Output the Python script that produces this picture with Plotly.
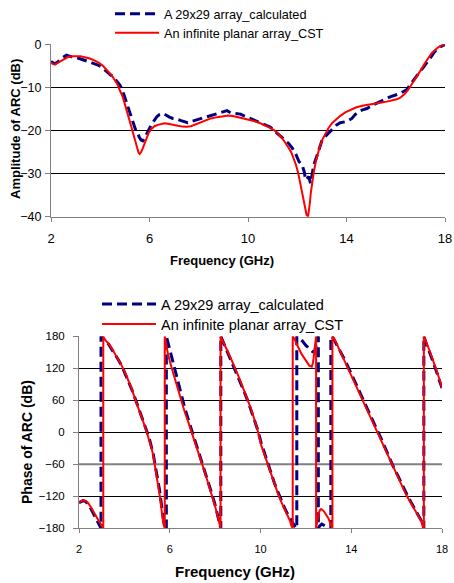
import plotly.graph_objects as go

# ---------------- Amplitude of ARC (dB) ----------------
amp_calc_freq = [2.0, 2.16, 2.3, 2.45, 2.63, 2.84, 3.05, 3.24, 3.51, 3.7, 3.91, 4.1, 4.25, 4.4,
                 4.52, 4.65, 4.79, 4.9, 4.99, 5.07, 5.15, 5.25, 5.33, 5.42, 5.5, 5.58, 5.66,
                 5.73, 5.8, 5.9, 6.0, 6.1, 6.2, 6.3, 6.4, 6.54, 6.7, 6.81, 6.95, 7.08, 7.28,
                 7.45, 7.55, 7.7, 7.82, 8.0, 8.22, 8.4, 8.63, 8.8, 9.03, 9.15, 9.3, 9.5, 9.7,
                 9.84, 10.04, 10.24, 10.45, 10.65, 10.9, 11.12, 11.3, 11.46, 11.65, 11.8,
                 11.95, 12.07, 12.2, 12.28, 12.34, 12.42, 12.47, 12.54, 12.6, 12.67, 12.81,
                 12.9, 13.01, 13.1, 13.21, 13.35, 13.48, 13.6, 13.75, 13.9, 14.02, 14.1,
                 14.22, 14.35, 14.49, 14.65, 14.83, 15.0, 15.2, 15.37, 15.55, 15.77, 16.0,
                 16.18, 16.3, 16.45, 16.6, 16.72, 16.85, 16.99, 17.13, 17.26, 17.4, 17.53,
                 17.66, 17.8, 17.9, 18.0]
amp_calc_db = [-4.0, -4.5, -4.0, -3.2, -2.5, -2.9, -3.1, -3.5, -4.0, -4.3, -4.8, -5.5, -6.35, -7.0,
               -7.5, -8.5, -9.4, -10.6, -12.2, -13.6, -14.9, -16.8, -18.3, -19.6, -20.3, -21.5,
               -22.2, -22.4, -21.8, -20.5, -19.5, -18.4, -17.5, -16.8, -16.3, -16.0, -16.5,
               -16.9, -17.2, -17.3, -17.7, -18.1, -18.2, -17.9, -17.7, -17.3, -16.9, -16.6,
               -16.4, -16.0, -15.6, -15.4, -15.9, -16.0, -16.2, -16.6, -17.1, -17.6, -18.0,
               -18.5, -19.2, -20.3, -21.2, -22.2, -23.0, -24.1, -25.6, -27.2, -28.0, -29.5,
               -31.5, -31.0, -30.7, -32.3, -30.5, -28.0, -25.7, -24.0, -22.2, -21.6, -21.0,
               -20.0, -19.3, -18.7, -18.2, -18.0, -17.9, -17.6, -17.2, -16.3, -15.6, -15.2,
               -14.9, -14.3, -13.7, -13.3, -12.8, -12.2, -11.8, -11.4, -11.0, -10.5, -9.3,
               -8.3, -7.3, -6.3, -5.3, -4.4, -3.2, -2.1, -1.2, -0.6, -0.3, -0.1]

amp_cst_freq = [2.0, 2.08, 2.16, 2.25, 2.36, 2.5, 2.7, 2.9, 3.04, 3.2, 3.37, 3.58, 3.78, 3.95,
                4.11, 4.25, 4.38, 4.5, 4.59, 4.7, 4.79, 4.9, 4.99, 5.1, 5.19, 5.28, 5.37, 5.45,
                5.5, 5.56, 5.6, 5.66, 5.73, 5.8, 5.87, 5.97, 6.07, 6.2, 6.34, 6.5, 6.61, 6.8,
                6.94, 7.15, 7.35, 7.5, 7.68, 7.9, 8.09, 8.3, 8.49, 8.75, 9.03, 9.2, 9.43, 9.6,
                9.84, 10.04, 10.24, 10.45, 10.65, 10.85, 11.05, 11.2, 11.39, 11.52, 11.66,
                11.76, 11.86, 11.95, 12.04, 12.1, 12.16, 12.22, 12.27, 12.33, 12.38, 12.44,
                12.48, 12.51, 12.55, 12.6, 12.67, 12.74, 12.82, 12.91, 13.02, 13.14, 13.27,
                13.41, 13.58, 13.75, 13.95, 14.15, 14.4, 14.69, 14.95, 15.23, 15.43, 15.63,
                15.84, 16.04, 16.2, 16.37, 16.5, 16.64, 16.78, 16.91, 17.05, 17.18, 17.32,
                17.45, 17.6, 17.72, 17.86, 18.0]
amp_cst_db = [-4.2, -4.6, -4.7, -4.4, -4.0, -3.4, -2.9, -2.75, -2.7, -2.8, -3.0, -3.3, -3.8, -4.3,
              -5.0, -5.8, -6.7, -7.5, -8.3, -9.3, -10.6, -12.0, -13.7, -15.7, -17.6, -19.5, -21.4,
              -23.2, -24.5, -25.2, -25.45, -25.0, -24.1, -23.0, -21.8, -20.5, -19.7, -19.0,
              -18.7, -18.4, -18.3, -18.5, -18.6, -18.9, -19.1, -19.15, -19.0, -18.5, -17.95,
              -17.5, -17.2, -16.9, -16.6, -16.55, -16.7, -16.9, -17.2, -17.5, -17.8, -18.2,
              -18.7, -19.2, -19.9, -20.6, -21.8, -22.8, -24.1, -25.1, -26.45, -28.0, -29.9,
              -31.7, -33.8, -35.5, -36.9, -38.5, -39.6, -40.0, -38.5, -36.9, -34.5, -32.3,
              -29.7, -27.6, -25.6, -23.8, -22.1, -20.65, -19.4, -18.3, -17.4, -16.6, -15.8,
              -15.2, -14.6, -14.2, -13.9, -13.7, -13.5, -13.3, -13.05, -12.76, -12.3, -11.5,
              -10.6, -9.4, -8.2, -7.1, -5.7, -4.4, -3.2, -2.1, -1.3, -0.7, -0.3, 0.0]

# ---------------- Phase of ARC (wrapped to +/-180) ----------------
ph_calc_freq = [2.0, 2.1, 2.19, 2.3, 2.41, 2.52, 2.63, 2.74, 2.85, 2.92, 2.97, 2.97, 3.05, 3.15,
                3.29, 3.45, 3.58, 3.72, 3.87, 4.02, 4.17, 4.32, 4.46, 4.62, 4.76, 4.88, 4.98,
                5.1, 5.2, 5.28, 5.34, 5.42, 5.49, 5.55, 5.6, 5.65, 5.7, 5.75, 5.82, 5.85, 5.85,
                5.92, 6.0, 6.1, 6.22, 6.37, 6.51, 6.66, 6.81, 6.95, 7.1, 7.25, 7.39, 7.54, 7.68,
                7.83, 7.98, 8.1, 8.2, 8.25, 8.25, 8.3, 8.42, 8.56, 8.71, 8.86, 9.0, 9.15, 9.3,
                9.44, 9.59, 9.74, 9.88, 10.03, 10.18, 10.32, 10.47, 10.62, 10.77, 10.91, 11.05,
                11.2, 11.35, 11.45, 11.55, 11.6, 11.6, 11.7, 11.85, 12.0, 12.15, 12.3, 12.38,
                12.45, 12.5, 12.55, 12.55, 12.6, 12.7, 12.8, 12.9, 13.0, 13.1, 13.1, 13.2, 13.3,
                13.4, 13.55, 13.7, 13.84, 13.99, 14.13, 14.28, 14.43, 14.57, 14.72, 14.86, 15.01,
                15.16, 15.31, 15.45, 15.6, 15.75, 15.89, 16.04, 16.18, 16.33, 16.47, 16.62,
                16.77, 16.88, 16.99, 17.08, 17.15, 17.2, 17.2, 17.24, 17.35, 17.46, 17.57, 17.68,
                17.79, 17.9, 18.0]
ph_calc_deg = [-132, -129, -128, -130, -135, -143, -152, -161, -168, -174, -180, 180, 177, 172,
               166, 156, 147, 137, 126, 112, 97, 81, 65, 47, 30, 15, 3,
               -12, -27, -42, -58, -75, -92, -108, -125, -145, -160, -172, -178, -180, 180,
               168, 155, 140, 117, 92, 68, 46, 25, 5, -14, -34, -53, -72, -91,
               -112, -133, -153, -172, -180, 180, 175, 163, 150, 136, 121, 106, 90, 74,
               59, 41, 22, 4, -20, -40, -59, -77, -96, -112, -127, -141,
               -154, -165, -173, -179, -180, 180, 176, 171, 163, 157, 151, 151,
               162, 174, 180, -180, -176, -172, -175, -177, -178, -180, 180, 177, 169,
               162, 149, 137, 125, 111, 98, 84, 71, 57, 43, 30, 17,
               3, -11, -25, -40, -54, -68, -80, -93, -106, -118, -130,
               -141, -150, -158, -165, -174, -180, 180, 174, 161, 149, 137, 123,
               110, 95, 83]

ph_cst_freq = [2.0, 2.1, 2.19, 2.3, 2.41, 2.52, 2.63, 2.74, 2.85, 2.95, 3.0, 3.07, 3.07, 3.11,
               3.2, 3.29, 3.45, 3.58, 3.72, 3.87, 4.02, 4.17, 4.32, 4.46, 4.62, 4.76, 4.88,
               4.98, 5.1, 5.2, 5.28, 5.34, 5.42, 5.49, 5.55, 5.6, 5.65, 5.68, 5.72, 5.78, 5.78,
               5.85, 5.93, 6.07, 6.22, 6.37, 6.51, 6.66, 6.81, 6.95, 7.1, 7.25, 7.39, 7.54,
               7.68, 7.83, 7.98, 8.1, 8.2, 8.24, 8.24, 8.27, 8.42, 8.56, 8.71, 8.86, 9.0, 9.15,
               9.3, 9.44, 9.59, 9.74, 9.88, 10.03, 10.18, 10.32, 10.47, 10.62, 10.77, 10.91,
               11.05, 11.2, 11.3, 11.35, 11.42, 11.42, 11.49, 11.6, 11.71, 11.82, 11.93, 12.05,
               12.15, 12.26, 12.31, 12.34, 12.39, 12.42, 12.45, 12.45, 12.5, 12.56, 12.62,
               12.67, 12.74, 12.81, 12.9, 12.99, 13.07, 13.13, 13.17, 13.17, 13.25, 13.4, 13.55,
               13.7, 13.84, 13.99, 14.13, 14.28, 14.43, 14.57, 14.72, 14.86, 15.01, 15.16,
               15.31, 15.45, 15.6, 15.75, 15.89, 16.04, 16.18, 16.33, 16.47, 16.62, 16.77,
               16.88, 16.99, 17.08, 17.13, 17.2, 17.2, 17.24, 17.35, 17.46, 17.57, 17.68, 17.79,
               17.9, 18.0]
ph_cst_deg = [-131, -128, -127, -129, -133, -140, -149, -157, -164.5, -171, -174, -180, 180, 176,
              171, 167, 157, 148, 138, 126, 113, 98, 82, 64, 46, 29, 14,
              1, -14, -30, -45, -61, -77, -93, -110, -130, -150, -161, -172, -180, 180,
              163, 145, 123, 101, 79, 57, 38, 20, 1, -18, -37, -55, -74,
              -93, -114, -136, -155, -174, -180, 180, 177, 164, 151, 137, 123, 108, 92,
              76, 61, 43, 23, 3, -24, -43, -61, -80, -99, -115, -130,
              -143, -155, -166, -174, -180, 180, 176, 165, 154, 146, 139, 131,
              125, 123, 130, 139, 155, 170, 180, -180, -165, -152, -146,
              -144, -146, -149, -155, -161, -170, -179, -180, 180, 176, 162, 148,
              135, 123, 109, 95, 81, 67, 53, 39, 27, 14, 0,
              -14, -29, -43, -57, -71, -83, -96, -109, -121, -132, -143,
              -151, -158, -166, -174, -180, 180, 176, 164, 152, 139, 126, 114,
              98, 84]

freq_ticks = [2, 6, 10, 14, 18]
amp_ticks = [0, -10, -20, -30, -40]
phase_ticks = [180, 120, 60, 0, -60, -120, -180]

NAME_CALC = "A 29x29 array_calculated"
NAME_CST = "An infinite planar array_CST"

FONT = "Liberation Sans, Arial, sans-serif"
NAVY = "#000080"
RED = "#FF0000"
AXIS_GREY = "#808080"

W, H = 454, 583


def px_x(p):
    return p / W


def px_y(p):
    return 1 - p / H


fig = go.Figure()

# amplitude panel (each legend entry gets its own one-row legend box)
fig.add_trace(go.Scatter(x=amp_calc_freq, y=amp_calc_db, mode="lines", name=NAME_CALC,
                         line=dict(color=NAVY, width=3, dash="10px,5px"),
                         xaxis="x", yaxis="y", legend="legend"))
fig.add_trace(go.Scatter(x=amp_cst_freq, y=amp_cst_db, mode="lines", name=NAME_CST,
                         line=dict(color=RED, width=2),
                         xaxis="x", yaxis="y", legend="legend2"))

# phase panel
fig.add_trace(go.Scatter(x=ph_calc_freq, y=ph_calc_deg, mode="lines", name=NAME_CALC,
                         line=dict(color=NAVY, width=3, dash="10px,5px"),
                         xaxis="x2", yaxis="y2", legend="legend3"))
fig.add_trace(go.Scatter(x=ph_cst_freq, y=ph_cst_deg, mode="lines", name=NAME_CST,
                         line=dict(color=RED, width=2),
                         xaxis="x2", yaxis="y2", legend="legend4"))

common_x = dict(range=[2, 18], tickvals=freq_ticks, ticks="outside", ticklen=4,
                tickcolor=AXIS_GREY, showline=True, linecolor=AXIS_GREY, linewidth=1,
                showgrid=False, zeroline=False, fixedrange=True, automargin=False)
common_y = dict(ticks="outside", ticklen=5, tickcolor=AXIS_GREY, showline=True,
                linecolor=AXIS_GREY, linewidth=1, showgrid=True, gridcolor="black",
                gridwidth=1, zeroline=False, fixedrange=True, automargin=False)


def legend_row(left_px, top_px, size, item_w):
    return dict(x=px_x(left_px), y=px_y(top_px), xanchor="left", yanchor="top",
                bgcolor="rgba(0,0,0,0)", borderwidth=0, itemwidth=item_w,
                font=dict(family=FONT, size=size, color="black"))


fig.update_layout(
    width=W, height=H,
    margin=dict(l=0, r=0, t=0, b=0, autoexpand=False),
    paper_bgcolor="white", plot_bgcolor="white",
    font=dict(family=FONT, color="black"),
    showlegend=True,
    xaxis=dict(common_x, domain=[px_x(51), px_x(445)], anchor="y",
               tickfont=dict(size=13), ticklabelstandoff=6),
    yaxis=dict(common_y, domain=[px_y(216.7), px_y(44.3)], anchor="x",
               range=[-40, 0], tickvals=amp_ticks, tickfont=dict(size=12.5),
               ticklabelstandoff=1),
    xaxis2=dict(common_x, domain=[px_x(79), px_x(442)], anchor="y2",
                tickfont=dict(size=11), ticklabelstandoff=6),
    yaxis2=dict(common_y, domain=[px_y(528.3), px_y(336.3)], anchor="x2",
                range=[-180, 180], tickvals=phase_ticks, tickfont=dict(size=11.5),
                ticklabelstandoff=6),
    legend=legend_row(110, -1, 12.7, 44),
    legend2=legend_row(110, 18, 12.7, 44),
    legend3=legend_row(97, 288, 14.5, 54),
    legend4=legend_row(97, 308, 14.5, 54),
)

# the legend boxes hide the top gridline of each panel where they overlap it
fig.add_shape(type="rect", xref="x", yref="y", x0=3.5, x1=14.0, y0=-0.6, y1=0.6,
              fillcolor="white", line=dict(width=0), layer="between")
fig.add_shape(type="rect", xref="x2", yref="y2", x0=2.0, x1=15.1, y0=177, y1=183,
              fillcolor="white", line=dict(width=0), layer="between")
# the -60 degree gridline is drawn in grey
fig.add_shape(type="line", xref="x2", yref="y2", x0=2, x1=18, y0=-60, y1=-60,
              line=dict(color=AXIS_GREY, width=2), layer="between")

# axis titles
fig.add_annotation(text="<b>Frequency (GHz)</b>", xref="paper", yref="paper",
                   x=px_x(222), y=px_y(260), xanchor="center", yanchor="middle",
                   showarrow=False, font=dict(family=FONT, size=13, color="black"))
fig.add_annotation(text="<b>Amplitude of ARC (dB)</b>", xref="paper", yref="paper",
                   x=px_x(16), y=px_y(129), xanchor="center", yanchor="middle",
                   textangle=-90, showarrow=False, font=dict(family=FONT, size=13, color="black"))
fig.add_annotation(text="<b>Frequency (GHz)</b>", xref="paper", yref="paper",
                   x=px_x(235), y=px_y(571), xanchor="center", yanchor="middle",
                   showarrow=False, font=dict(family=FONT, size=15, color="black"))
fig.add_annotation(text="<b>Phase of ARC (dB)</b>", xref="paper", yref="paper",
                   x=px_x(27), y=px_y(442), xanchor="center", yanchor="middle",
                   textangle=-90, showarrow=False, font=dict(family=FONT, size=14, color="black"))

fig.write_html("out.html")
